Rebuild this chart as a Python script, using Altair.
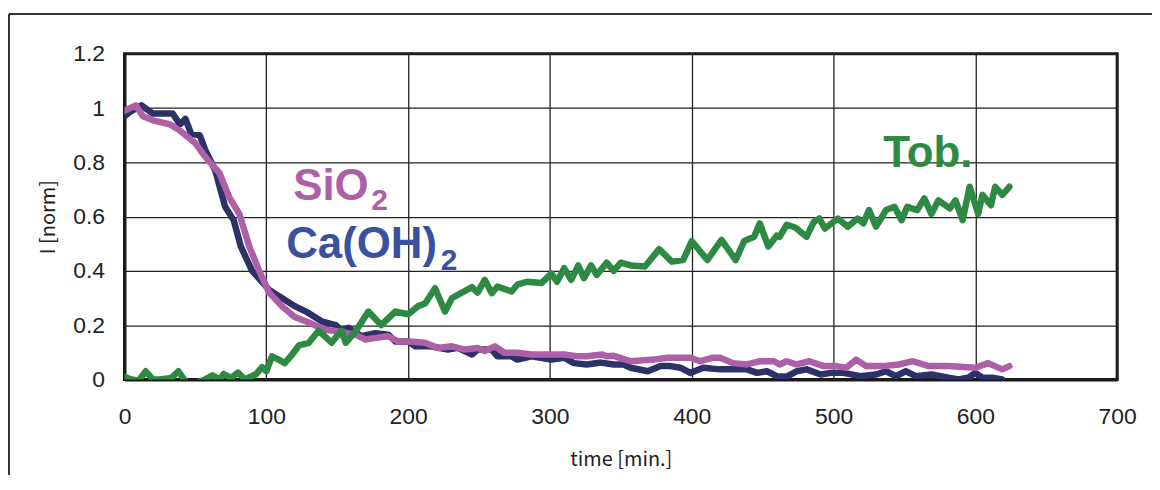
import altair as alt
import pandas as pd

# ---- data ----
ca_t = [0, 5, 12, 20, 27, 34, 39, 43, 47, 53, 57, 64, 71, 77, 82, 90, 102, 111, 120, 128,
        139, 149, 153, 158, 167, 177, 186, 191, 200, 205, 216, 228, 235, 245, 249, 259, 263, 273,
        277, 287, 301, 310, 317, 326, 336, 345, 352, 357, 369, 378, 385, 392, 399, 408, 420, 439,
        446, 453, 460, 467, 474, 481, 491, 498, 507, 519, 530, 537, 544, 551, 558, 569, 581, 588,
        595, 600, 605, 612, 619]
ca_v = [0.97, 0.99, 1.01, 0.98, 0.98, 0.98, 0.94, 0.96, 0.905, 0.9, 0.845, 0.77, 0.636, 0.587,
        0.49, 0.40, 0.33, 0.30, 0.27, 0.25,
        0.214, 0.2, 0.18, 0.19, 0.159, 0.17, 0.165, 0.14, 0.14, 0.122, 0.122, 0.11, 0.116, 0.092,
        0.11, 0.11, 0.085, 0.085, 0.073, 0.085, 0.073, 0.08, 0.06, 0.055, 0.062, 0.055, 0.055,
        0.043, 0.03, 0.049, 0.049, 0.043, 0.024, 0.043, 0.037, 0.037, 0.024, 0.03, 0.012, 0.01,
        0.03, 0.037, 0.018, 0.024, 0.024, 0.012, 0.018, 0.03, 0.012, 0.03, 0.012, 0.018, 0.006,
        0.0, 0.006, 0.024, 0.006, 0.006, 0.0]

si_t = [0, 8, 13, 20, 32, 39, 50, 57, 67, 74, 81, 88, 95, 102, 111, 120, 130,
        141, 151, 163, 170, 177, 186, 193, 200, 212, 221, 231, 240, 249, 254, 261, 268, 277, 287,
        298, 310, 320, 326, 337, 340, 345, 357, 373, 383, 399, 406, 415, 420, 429, 439, 448, 458,
        462, 467, 474, 483, 493, 502, 509, 516, 523, 535, 546, 556, 567, 581, 600, 609, 619, 624]
si_v = [0.99, 1.01, 0.97, 0.955, 0.94, 0.917, 0.87, 0.82, 0.76, 0.67, 0.61, 0.49, 0.40, 0.32,
        0.27, 0.23, 0.21,
        0.183, 0.177, 0.165, 0.147, 0.153, 0.159, 0.14, 0.14, 0.135, 0.116, 0.122, 0.11, 0.116,
        0.104, 0.122, 0.098, 0.098, 0.092, 0.092, 0.092, 0.085, 0.085, 0.092, 0.085, 0.087, 0.067,
        0.073, 0.08, 0.08, 0.067, 0.08, 0.08, 0.06, 0.055, 0.067, 0.067, 0.055, 0.067, 0.055,
        0.067, 0.049, 0.049, 0.043, 0.073, 0.049, 0.049, 0.055, 0.067, 0.049, 0.049, 0.043, 0.06,
        0.037, 0.049]

tob_t = [0, 5, 10, 15, 20, 25, 33, 38, 42, 47, 52, 57, 62, 67, 70, 75, 80, 85, 89, 93, 97, 100,
         104, 108, 113, 118, 123, 130, 137, 146, 153, 156, 163, 172, 181, 191, 200, 207, 212, 219,
         226, 231, 245, 249, 254, 259, 263, 273, 277, 284, 294, 301, 305, 310, 315, 320, 324, 329,
         333, 340, 345, 350, 357, 367, 377, 386, 394, 400, 411, 421, 431, 437, 444, 448, 454, 460,
         462, 467, 473, 481, 486, 490, 494, 503, 510, 517, 521, 525, 530, 537, 543, 548, 552, 559,
         564, 569, 574, 582, 586, 591, 596, 602, 605, 611, 614, 619, 624]
tob_v = [0.01, 0.0, -0.005, 0.03, 0.0, 0.0, 0.005, 0.03, 0.0, -0.03, -0.01, 0.0, 0.015, 0.0,
         0.02, 0.005, 0.025, 0.0, 0.01, 0.02, 0.045, 0.03,
         0.085, 0.075, 0.06, 0.09, 0.125, 0.135, 0.18, 0.135, 0.18, 0.135, 0.177, 0.25, 0.2, 0.25,
         0.24, 0.27, 0.28, 0.336, 0.25, 0.30, 0.34, 0.32, 0.367, 0.318, 0.342, 0.324, 0.349, 0.36,
         0.355, 0.39, 0.36, 0.41, 0.367, 0.42, 0.373, 0.42, 0.385, 0.43, 0.40, 0.43, 0.42, 0.416,
         0.48, 0.434, 0.44, 0.51, 0.44, 0.514, 0.44, 0.51, 0.526, 0.575, 0.49, 0.53, 0.525, 0.57,
         0.56, 0.526, 0.58, 0.593, 0.556, 0.593, 0.563, 0.593, 0.575, 0.624, 0.563, 0.624, 0.636,
         0.587, 0.636, 0.624, 0.667, 0.61, 0.66, 0.63, 0.66, 0.587, 0.71, 0.61, 0.68, 0.642, 0.71,
         0.68, 0.71]

label_text = ["SiO", "2", "Ca(OH)", "2", "Tob."]
label_t = [119, 174, 114, 223, 535]
label_v = [0.66, 0.624, 0.448, 0.404, 0.782]

x_ticks = [0, 100, 200, 300, 400, 500, 600, 700]
y_ticks = [0, 0.2, 0.4, 0.6, 0.8, 1.0, 1.2]

C_PINK = "#AD5FA8"
C_NAVY = "#2C3168"
C_BLUE = "#3A50A1"
C_GREEN = "#2E8943"

label_color = [C_PINK, C_PINK, C_BLUE, C_BLUE, C_GREEN]
label_size = [44, 30, 44, 30, 44]

LABEL_FONT = "Liberation Sans Narrow, Liberation Sans, Arial, sans-serif"
TITLE_FONT = "Noto Sans CJK JP, sans-serif"

ca_df = pd.DataFrame({"t": ca_t, "v": ca_v})
si_df = pd.DataFrame({"t": si_t, "v": si_v})
tob_df = pd.DataFrame({"t": tob_t, "v": tob_v})
lab_df = pd.DataFrame({"t": label_t, "v": label_v, "label": label_text,
                       "color": label_color, "size": label_size})

X = alt.X("t:Q", scale=alt.Scale(domain=[0, 700], nice=False, zero=False),
          axis=alt.Axis(values=x_ticks, title="time [min.]", labelPadding=26, titlePadding=21,
                        labelBaseline="top", labelFlush=False))
Y = alt.Y("v:Q", scale=alt.Scale(domain=[0, 1.2], nice=False),
          axis=alt.Axis(values=y_ticks, title="I [norm]", format=".1~f",
                        labelPadding=20, titlePadding=14, labelFlush=False))


def series(df, color):
    return alt.Chart(df).mark_line(color=color, strokeWidth=6.5, clip=True,
                                   strokeJoin="round", strokeCap="round").encode(x=X, y=Y)


labels = alt.Chart(lab_df).mark_text(align="left", baseline="alphabetic", fontWeight="bold",
                                     font="Liberation Sans, Arial, sans-serif").encode(
    x=X, y=Y, text="label:N",
    color=alt.Color("color:N", scale=None),
    size=alt.Size("size:Q", scale=None),
)

frame_df = pd.DataFrame({"a": [0]})
frame_left = alt.Chart(frame_df).mark_rule(color="#333333", strokeWidth=2).encode(
    x=alt.value(-116), y=alt.value(-40), y2=alt.value(500))
frame_top = alt.Chart(frame_df).mark_rule(color="#333333", strokeWidth=2).encode(
    x=alt.value(-116), x2=alt.value(1100), y=alt.value(-40))

chart = alt.layer(
    series(ca_df, C_NAVY),
    series(si_df, C_PINK),
    series(tob_df, C_GREEN),
    labels,
    frame_left,
    frame_top,
).properties(
    width=997, height=327,
    autosize=alt.AutoSizeParams(type="none"),
    padding={"left": 117, "top": 45, "right": 35, "bottom": 95},
).configure_view(
    stroke="#1a1a1a", strokeWidth=3
).configure_axis(
    grid=True, gridColor="#222222", gridWidth=1.3, gridOpacity=1,
    domainColor="#1a1a1a", domainWidth=3, ticks=False,
    labelFont=LABEL_FONT, labelFontSize=23, labelColor="#222222",
    titleFont=TITLE_FONT, titleFontSize=20, titleFontWeight="normal", titleColor="#222222",
)

chart.save("out.html", embed_options={"renderer": "svg", "actions": False})
